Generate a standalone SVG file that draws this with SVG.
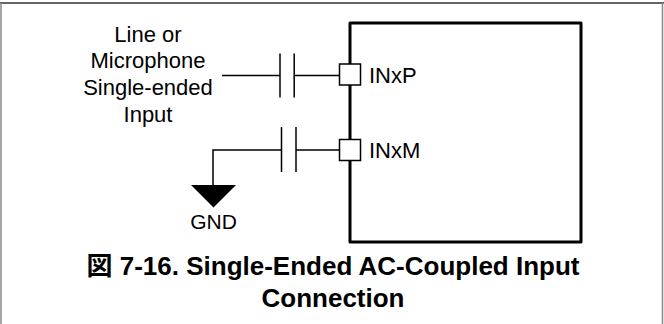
<svg xmlns="http://www.w3.org/2000/svg" width="664" height="324" viewBox="0 0 664 324">
<style>
.t{font-family:"Liberation Sans",Arial,sans-serif;font-size:22px;fill:#000}
.ttl{font-family:"Liberation Sans","Noto Sans CJK JP",sans-serif;font-size:26px;font-weight:bold;fill:#000}
.w{stroke:#000;stroke-width:1.5;fill:none}
.port{stroke:#000;stroke-width:1.5;fill:#fff}
</style>
<rect width="664" height="324" fill="#fff"/>
<g id="frame">
<line x1="0" y1="3" x2="664" y2="3" stroke="#333" stroke-width="1.5"/>
<line x1="1" y1="3" x2="1" y2="324" stroke="#888" stroke-width="1.5"/>
<line x1="662.5" y1="3" x2="662.5" y2="324" stroke="#888" stroke-width="1.5"/>
</g>
<g id="chip">
<rect x="350" y="23" width="231" height="219" fill="none" stroke="#000" stroke-width="3" stroke-linejoin="round"/>
</g>
<g id="connectors">
<path class="w" d="M222 75.5H280M294.2 75.5H340"/>
<path class="w" d="M280 53.5V97.5M294.2 53.5V97.5"/>
<path class="w" d="M213 185V150H281.5M296 150H340"/>
<path class="w" d="M281.5 127V172M296 127V172"/>
</g>
<g id="port-inxp">
<rect class="port" x="339.5" y="64" width="21" height="21"/>
<text class="t" x="369" y="83">INxP</text>
</g>
<g id="port-inxm">
<rect class="port" x="339.5" y="139.5" width="21" height="21"/>
<text class="t" x="369" y="158">INxM</text>
</g>
<g id="input-label">
<text class="t" text-anchor="middle" x="148" y="41.7">Line or</text>
<text class="t" text-anchor="middle" x="148" y="68.3">Microphone</text>
<text class="t" text-anchor="middle" x="148" y="95">Single-ended</text>
<text class="t" text-anchor="middle" x="148" y="121.7">Input</text>
</g>
<g id="gnd">
<polygon points="191,185 236,185 213.5,207.5" fill="#000"/>
<text class="t" text-anchor="middle" x="213.5" y="229" style="font-size:21px">GND</text>
</g>
<g id="caption">
<text class="ttl" text-anchor="middle" x="333" y="275">図 7-16. Single-Ended AC-Coupled Input</text>
<text class="ttl" text-anchor="middle" x="333" y="307">Connection</text>
</g>
</svg>
